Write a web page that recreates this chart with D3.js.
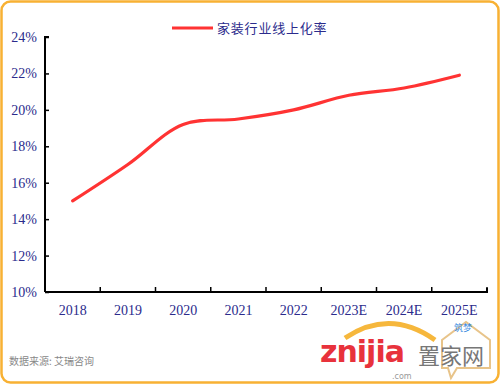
<!DOCTYPE html>
<html><head><meta charset="utf-8">
<script src="https://cdn.jsdelivr.net/npm/d3@7"></script>
<style>body{margin:0;background:#fff}svg{display:block}</style>
</head><body><svg id="c" width="500" height="384"></svg>
<script>
const categories = ["2018","2019","2020","2021","2022","2023E","2024E","2025E"];
const values = [15.0, 17.0, 19.2, 19.5, 20.0, 20.8, 21.2, 21.9];
const yTicks = [10,12,14,16,18,20,22,24];
const seriesName = "家装行业线上化率";
const source = "数据来源: 艾瑞咨询";

const svg = d3.select("#c");
svg.append("rect").attr("x",1.5).attr("y",1.5).attr("width",497).attr("height",381)
  .attr("rx",9).attr("fill","#fff").attr("stroke","#f8b133").attr("stroke-width",2.5);

const x = d3.scaleBand().domain(categories).range([45,487]);
const y = d3.scaleLinear().domain([10,24]).range([292,37]);
const txtCol = "#2b2b8c";

const ya = svg.append("g").attr("transform","translate(45,0)")
  .call(d3.axisRight(y).tickValues(yTicks).tickSize(4).tickFormat(d=>d+"%"));
ya.select(".domain").attr("stroke","#000").attr("stroke-width",2).attr("d","M4,37H0V292");
ya.selectAll(".tick line").attr("stroke","#000").attr("stroke-width",1.5);
ya.selectAll(".tick text").attr("x",-8).attr("text-anchor","end")
  .attr("fill",txtCol).style("font-family","'Liberation Serif',serif").style("font-size","14px");

const xa = svg.append("g").attr("transform","translate(0,292)")
  .call(d3.axisTop(x).tickSize(0).tickFormat(""));
xa.select(".domain").attr("stroke","#000").attr("stroke-width",2).attr("d","M45,0H487V-4");
const bounds = categories.slice(1).map(c=>x(c)).concat([487]);
svg.append("g").selectAll("line").data(bounds).join("line")
  .attr("x1",d=>d).attr("x2",d=>d).attr("y1",292).attr("y2",287)
  .attr("stroke","#000").attr("stroke-width",1.5);
svg.append("g").selectAll("text").data(categories).join("text")
  .attr("x",d=>x(d)+x.bandwidth()/2).attr("y",315).attr("text-anchor","middle")
  .attr("fill",txtCol).style("font-family","'Liberation Serif',serif").style("font-size","14px")
  .text(d=>d);

const line = d3.line().x((d,i)=>x(categories[i])+x.bandwidth()/2).y(d=>y(d))
  .curve(d3.curveCatmullRom.alpha(0.5));
svg.append("path").datum(values).attr("d",line).attr("fill","none")
  .attr("stroke","#ff3333").attr("stroke-width",3.2).attr("stroke-linecap","round");

svg.append("line").attr("x1",172).attr("x2",213).attr("y1",28).attr("y2",28)
  .attr("stroke","#ff3333").attr("stroke-width",3.2);
svg.append("text").attr("x",217).attr("y",33).attr("fill",txtCol)
  .style("font-family","'Noto Sans CJK SC',sans-serif").style("font-size","13px")
  .style("letter-spacing","0.8px").text(seriesName);

svg.append("text").attr("x",9).attr("y",365).attr("fill","#888")
  .style("font-family","'Noto Sans CJK SC',sans-serif").style("font-size","10px").text(source);

// watermark
const wm = svg.append("g");
wm.append("path").attr("d","M345,338 Q390,308 435,340").attr("fill","none")
  .attr("stroke","#f6b73c").attr("stroke-width",5);
wm.append("path").attr("d","M442,340 L442,368 L448,368 L451,378 L457,368 L490,368 L490,340 L466,322 Z")
  .attr("fill","none").attr("stroke","#e8c48a").attr("stroke-width",2);
wm.append("text").attr("x",320).attr("y",362).attr("fill","#e8323c")
  .style("font-family","'DejaVu Sans',sans-serif").style("font-weight","bold").style("font-size","30px")
  .style("letter-spacing","-1px").text("znijia");
wm.append("text").attr("x",392).attr("y",379).attr("fill","#999")
  .style("font-family","'DejaVu Sans',sans-serif").style("font-size","8px").text(".com");
wm.append("text").attr("x",418).attr("y",364).attr("fill","#777")
  .style("font-family","'Noto Sans CJK SC',sans-serif").style("font-size","22px").text("置家网");
wm.append("text").attr("x",454).attr("y",331).attr("fill","#3b8be0")
  .style("font-family","'Noto Sans CJK SC',sans-serif").style("font-size","9px").text("筑梦");
</script></body></html>
